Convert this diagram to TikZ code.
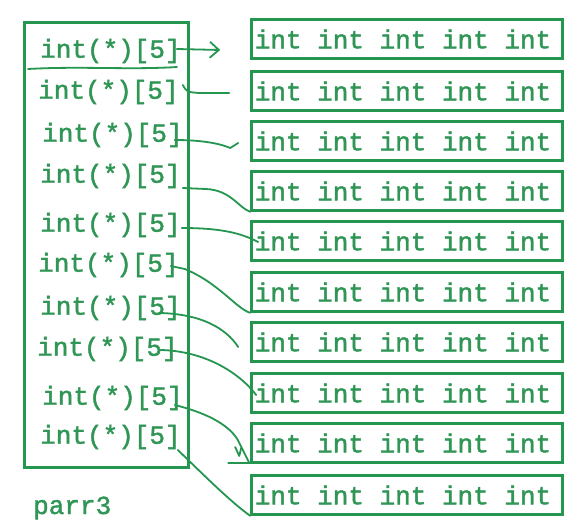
\documentclass[tikz,border=0pt]{standalone}
\usepackage{fontspec}
\setmonofont[FakeBold=1.6]{Liberation Mono}
\usetikzlibrary{arrows.meta,calc}
\definecolor{ink}{RGB}{36,150,80}
\definecolor{txt}{RGB}{48,150,86}
\begin{document}
\begin{tikzpicture}[x=1pt,y=-1pt,
  ptr/.style={font=\ttfamily\fontsize{26}{26}\selectfont, text=txt, anchor=west, inner sep=0pt},
  arr/.style={draw=ink, line width=2.6pt, minimum width=311pt, minimum height=39pt, inner sep=0pt,
    font=\ttfamily\fontsize{26}{26}\selectfont, text=txt},
  outer/.style={draw=ink, line width=3pt, minimum width=164pt, minimum height=444pt, inner sep=0pt},
  link/.style={draw=ink, line width=1.8pt, line cap=round, line join=round}]
\useasboundingbox (0,0) rectangle (568,532);
\fill[white] (0,0) rectangle (568,532);

% pointer array box
\node[outer] (parr) at (106,245) {};
\node[ptr] (L1) at (40,51) {int(*)[5]};
\node[ptr] (L2) at (38,92) {int(*)[5]};
\node[ptr] (L3) at (42,135) {int(*)[5]};
\node[ptr] (L4) at (40,176) {int(*)[5]};
\node[ptr] (L5) at (40,225) {int(*)[5]};
\node[ptr] (L6) at (38,265) {int(*)[5]};
\node[ptr] (L7) at (40,308) {int(*)[5]};
\node[ptr] (L8) at (37,349) {int(*)[5]};
\node[ptr] (L9) at (42,398) {int(*)[5]};
\node[ptr] (L10) at (40,437) {int(*)[5]};
\node[ptr] (lbl) at (33,508) {parr3};

% separator under first entry
\draw[link] (28,69) .. controls (80,66) and (130,70) .. (177,67);

% arrays of five ints
\node[arr] (R1) at (407,39) {\hspace*{-8pt}int int int int int};
\node[arr] (R2) at (407,91) {\hspace*{-8pt}int int int int int};
\node[arr] (R3) at (407,141) {\hspace*{-8pt}int int int int int};
\node[arr] (R4) at (407,191) {\hspace*{-8pt}int int int int int};
\node[arr] (R5) at (407,241) {\hspace*{-8pt}int int int int int};
\node[arr] (R6) at (407,292) {\hspace*{-8pt}int int int int int};
\node[arr] (R7) at (407,342) {\hspace*{-8pt}int int int int int};
\node[arr] (R8) at (407,393) {\hspace*{-8pt}int int int int int};
\node[arr] (R9) at (407,443) {\hspace*{-8pt}int int int int int};
\node[arr] (R10) at (407,495) {\hspace*{-8pt}int int int int int};

% free ends
\coordinate (e1) at ($(R1.west)+(-30,11)$);
\coordinate (e2) at ($(R2.west)+(-21,2)$);
\coordinate (e3) at ($(R3.west)+(-20,7)$);
\coordinate (e7) at ($(R7.west)+(-12,5)$);

% connectors
\draw[link,-{Straight Barb[length=9pt,width=16pt,line width=1.8pt]}] ($(L1.east)+(-4,-2)$) -- (e1);
\draw[link] ($(L2.east)+(4,-7)$) .. controls ($(L2.east)+(8,0)$) .. ($(L2.east)+(20,1)$) -- (e2);
\draw[link] ($(L3.east)+(-8,5)$) .. controls ($(L3.east)+(30,5)$) and ($(L3.east)+(45,12)$) .. (e3) -- ++(8,-5);
\draw[link] ($(L4.east)+(2,12)$) -- ($(L4.east)+(25,13)$) .. controls ($(L4.east)+(50,14)$) and ($(L4.east)+(58,32)$) .. (R4.south west);
\draw[link] ($(L5.east)+(1,3)$) .. controls ($(L5.east)+(40,3)$) and ($(L5.east)+(60,8)$) .. ($(R5.west)+(8,1)$);
\draw[link] ($(L6.east)+(-8,1)$) -- ($(L6.east)+(6,4)$) .. controls ($(L6.east)+(40,18)$) and ($(L6.east)+(58,44)$) .. (R6.south west);
\draw[link] ($(L7.east)+(-21,5)$) .. controls ($(L7.east)+(20,6)$) and ($(L7.east)+(45,20)$) .. (e7);
\draw[link] ($(L8.east)+(-17,1)$) .. controls ($(L8.east)+(25,2)$) and ($(L8.east)+(60,22)$) .. ($(R8.west)+(6,2)$);
\draw[link] ($(L9.east)+(-8,7)$) .. controls ($(L9.east)+(20,14)$) and ($(L9.east)+(45,25)$) .. ($(L9.east)+(55,42)$) -- ($(R9.south west)+(-1,-1)$);
\draw[link] ($(R9.south west)+(-22,-1)$) -- ($(R9.south west)+(0,-1)$);
\draw[link] ($(R9.west)+(-15,4)$) -- ($(R9.west)+(-11,13)$) -- ($(R9.west)+(-9,5)$);
\draw[link] ($(L10.east)+(-3,13)$) .. controls ($(L10.east)+(25,40)$) and ($(L10.east)+(50,65)$) .. (R10.south west);
\end{tikzpicture}
\end{document}
